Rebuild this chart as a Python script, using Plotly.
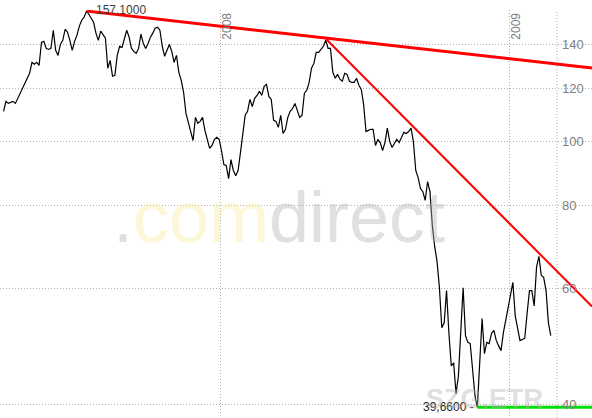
import numpy as np
import pandas as pd
import plotly.graph_objects as go

# ---------------- data ----------------
start_date = "2007-04-01"
step = "3D"
prices = [
    110.9, 114.8, 114.0, 114.4, 114.8, 114.0, 116.0, 118.1, 120.5, 122.2,
    124.4, 126.6, 131.5, 130.6, 131.5, 130.1, 140.9, 141.4, 138.0, 137.5,
    138.0, 147.0, 137.1, 134.7, 139.9, 141.9, 147.5, 146.0, 141.9, 137.1,
    141.4, 144.5, 149.1, 152.2, 153.8, 157.1, 155.4, 152.8, 151.1, 145.5,
    141.9, 146.5, 145.0, 143.0, 128.8, 132.4, 125.3, 125.7, 134.7, 139.0,
    138.5, 143.0, 147.0, 143.5, 138.0, 136.6, 135.7, 138.0, 145.0, 140.4,
    138.0, 140.4, 143.5, 145.5, 148.0, 148.5, 147.0, 139.0, 134.3, 137.1,
    139.9, 136.6, 131.5, 134.7, 127.0, 123.5, 118.5, 110.1, 106.8, 103.4,
    100.2, 108.6, 106.4, 107.1, 108.6, 103.8, 100.2, 97.5, 98.5, 100.6,
    101.3, 100.6, 96.8, 92.2, 91.9, 87.8, 93.8, 90.3, 88.7, 90.3,
    96.1, 103.1, 109.4, 110.9, 115.6, 112.8, 116.0, 117.2, 118.9, 117.2,
    121.0, 121.8, 116.8, 115.6, 107.5, 107.1, 104.9, 109.4, 102.7, 104.2,
    108.6, 110.9, 112.0, 114.0, 111.3, 108.6, 109.4, 118.1, 119.3, 122.6,
    128.8, 131.0, 136.1, 136.1, 137.5, 139.0, 142.0, 138.0, 138.0, 127.0,
    124.4, 126.1, 124.0, 123.1, 126.6, 126.1, 123.1, 122.6, 122.6, 124.4,
    121.4, 119.7, 113.6, 103.4, 103.8, 104.2, 104.2, 98.5, 100.6, 99.5,
    96.8, 99.5, 104.6, 99.9, 97.8, 99.2, 100.6, 99.5, 101.3, 103.1,
    102.7, 103.4, 104.6, 99.9, 90.3, 88.1, 84.8, 83.9, 81.4, 86.9,
    83.9, 74.6, 69.3, 65.8, 60.1, 52.3, 53.2, 59.5, 51.3, 45.8,
    46.3, 41.6, 44.2, 50.6, 60.1, 50.9, 49.7, 49.5, 45.0, 41.3,
    39.66, 47.3, 54.0, 47.8, 49.7, 49.5, 51.3, 51.8, 50.0, 49.1,
    48.3, 51.4, 53.6, 56.4, 58.1, 61.2, 54.5, 52.5, 50.0, 50.2,
    50.4, 54.9, 59.5, 59.5, 56.4, 64.6, 67.0, 62.7, 62.3, 59.5,
    53.2, 50.9,
]

x_range = ["2007-03-27 12:00", "2009-04-15 05:00"]
y_bounds = [38.22, 157.7]
y_ticks = [40, 60, 80, 100, 120, 140]
year_ticks = ["2008-01-01", "2009-01-01"]
year_labels = ["2008", "2009"]

trend1_end = ["2009-04-15 05:00"]
trend1_end_price = [128.9]
trend2_dates = ["2008-05-13 10:00", "2009-04-15 05:00"]
trend2_prices = [142.6, 56.3]

dates = pd.date_range(start_date, periods=len(prices), freq=step)
i_peak = int(np.argmax(prices))
i_low = int(np.argmin(prices))
peak_val = prices[i_peak]
low_val = prices[i_low]

# ---------------- figure ----------------
W, H = 592, 418
ML, MR, MT, MB = 0, 0, 10, 0
sep_px = 557
grid_col = "#b0b0b0"
font = "Liberation Sans, Arial, sans-serif"

fig = go.Figure()
fig.add_trace(go.Scatter(x=dates, y=prices, mode="lines",
                         line=dict(color="#000000", width=1.2), hoverinfo="skip"))
fig.add_trace(go.Scatter(x=[dates[i_peak]] + trend1_end, y=[peak_val] + trend1_end_price,
                         mode="lines", line=dict(color="#ff0000", width=3)))
fig.add_trace(go.Scatter(x=trend2_dates, y=trend2_prices, mode="lines",
                         line=dict(color="#ff0000", width=2)))
fig.add_trace(go.Scatter(x=[dates[i_low], x_range[1]], y=[low_val, low_val], mode="lines",
                         line=dict(color="#00e000", width=3)))

plot_w = W - ML - MR
plot_h = H - MT - MB

shapes = [
    dict(type="rect", xref="paper", yref="paper", x0=(sep_px - ML) / plot_w, x1=1.01,
         y0=0, y1=1, fillcolor="white", line=dict(width=0), layer="between"),
    dict(type="line", xref="paper", yref="paper", x0=(sep_px - ML) / plot_w,
         x1=(sep_px - ML) / plot_w, y0=0, y1=1,
         line=dict(color=grid_col, width=1, dash="1px,2px"), layer="between"),
]

annotations = []
for v in y_ticks:
    annotations.append(dict(x=(560 - ML) / plot_w, xref="paper", y=np.log10(v), yref="y",
                            text=str(v), showarrow=False, xanchor="left", yanchor="middle",
                            font=dict(family=font, size=13, color="#808080")))
for d, t in zip(year_ticks, year_labels):
    annotations.append(dict(x=d, xref="x", y=1, yref="paper", text=t, showarrow=False,
                            textangle=-90, xanchor="center", yanchor="top",
                            xshift=5.5, yshift=-1,
                            font=dict(family=font, size=12, color="#808080")))
annotations.append(dict(x=dates[i_peak], xref="x", y=np.log10(peak_val), yref="y",
                        text=f"{peak_val:.4f}".replace(".", ","), showarrow=False,
                        xanchor="left", yanchor="middle", xshift=8, yshift=1,
                        font=dict(family=font, size=12, color="#404040")))
annotations.append(dict(x=dates[i_low], xref="x", y=np.log10(low_val), yref="y",
                        text=f"{low_val:.4f}".replace(".", ",") + " -", showarrow=False,
                        xanchor="right", yanchor="middle", xshift=-1,
                        font=dict(family=font, size=12, color="#202020")))
# watermarks
annotations.append(dict(x=279 / plot_w, xref="paper", y=(H - 259) / plot_h, yref="paper",
                        text='<span style="color:#b4b4b4">.</span><span style="color:#f8ec9a">com</span>'
                             '<span style="color:#b4b4b4">direct</span>',
                        showarrow=False, xanchor="center", yanchor="bottom", opacity=0.4,
                        font=dict(family=font, size=72, color="#b4b4b4")))
annotations.append(dict(x=484 / plot_w, xref="paper", y=(H - 416) / plot_h, yref="paper",
                        text="<b>SZG.ETR</b>", showarrow=False, xanchor="center", yanchor="bottom",
                        opacity=0.4, font=dict(family=font, size=27, color="#b4b4b4")))

fig.update_layout(
    width=W, height=H, margin=dict(l=ML, r=MR, t=MT, b=MB),
    paper_bgcolor="white", plot_bgcolor="white", showlegend=False,
    xaxis=dict(type="date", range=x_range, tickvals=year_ticks, showticklabels=False,
               showgrid=True, gridcolor=grid_col, griddash="1px,2px", gridwidth=1,
               zeroline=False, showline=False, fixedrange=True),
    yaxis=dict(type="log", range=[np.log10(y_bounds[0]), np.log10(y_bounds[1])],
               tickvals=y_ticks, showticklabels=False,
               showgrid=True, gridcolor=grid_col, griddash="1px,2px", gridwidth=1,
               zeroline=False, showline=False, fixedrange=True),
    shapes=shapes, annotations=annotations,
)

fig.write_html("out.html", config={"displayModeBar": False},
               post_script="document.body.style.margin='0';document.body.style.overflow='hidden';")
